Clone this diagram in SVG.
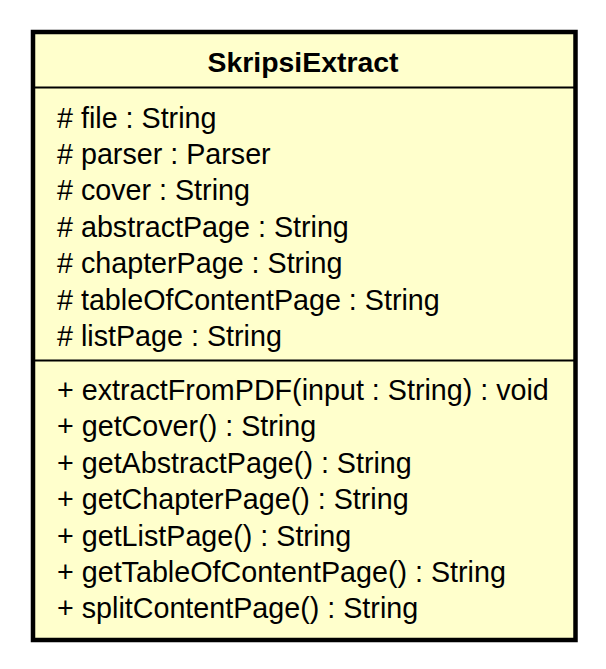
<svg xmlns="http://www.w3.org/2000/svg" width="606" height="669" viewBox="0 0 606 669">
<style>
.box{fill:#FFFFCC;stroke:#000;stroke-width:4.5}
.div{stroke:#000;stroke-width:2}
.t{font-family:"Liberation Sans",Arial,sans-serif;font-size:28.7px;fill:#000}
.title{font-weight:bold;text-anchor:middle;font-size:28.4px}
</style>
<rect width="606" height="669" fill="#fff"/>
<g id="SkripsiExtract">
<rect class="box" x="33" y="32" width="542.5" height="608"/>
<text class="t title" x="303" y="72">SkripsiExtract</text>
<line class="div" x1="33" y1="87.5" x2="575.5" y2="87.5"/>
<text class="t" x="57" y="127.5"># file : String</text>
<text class="t" x="57" y="163.9"># parser : Parser</text>
<text class="t" x="57" y="200.3"># cover : String</text>
<text class="t" x="57" y="236.7"># abstractPage : String</text>
<text class="t" x="57" y="273.1"># chapterPage : String</text>
<text class="t" x="57" y="309.5"># tableOfContentPage : String</text>
<text class="t" x="57" y="345.9"># listPage : String</text>
<line class="div" x1="33" y1="360.5" x2="575.5" y2="360.5"/>
<text class="t" x="57" y="400">+ extractFromPDF(input : String) : void</text>
<text class="t" x="57" y="436.4">+ getCover() : String</text>
<text class="t" x="57" y="472.8">+ getAbstractPage() : String</text>
<text class="t" x="57" y="509.2">+ getChapterPage() : String</text>
<text class="t" x="57" y="545.6">+ getListPage() : String</text>
<text class="t" x="57" y="582">+ getTableOfContentPage() : String</text>
<text class="t" x="57" y="618.4">+ splitContentPage() : String</text>
</g>
</svg>
